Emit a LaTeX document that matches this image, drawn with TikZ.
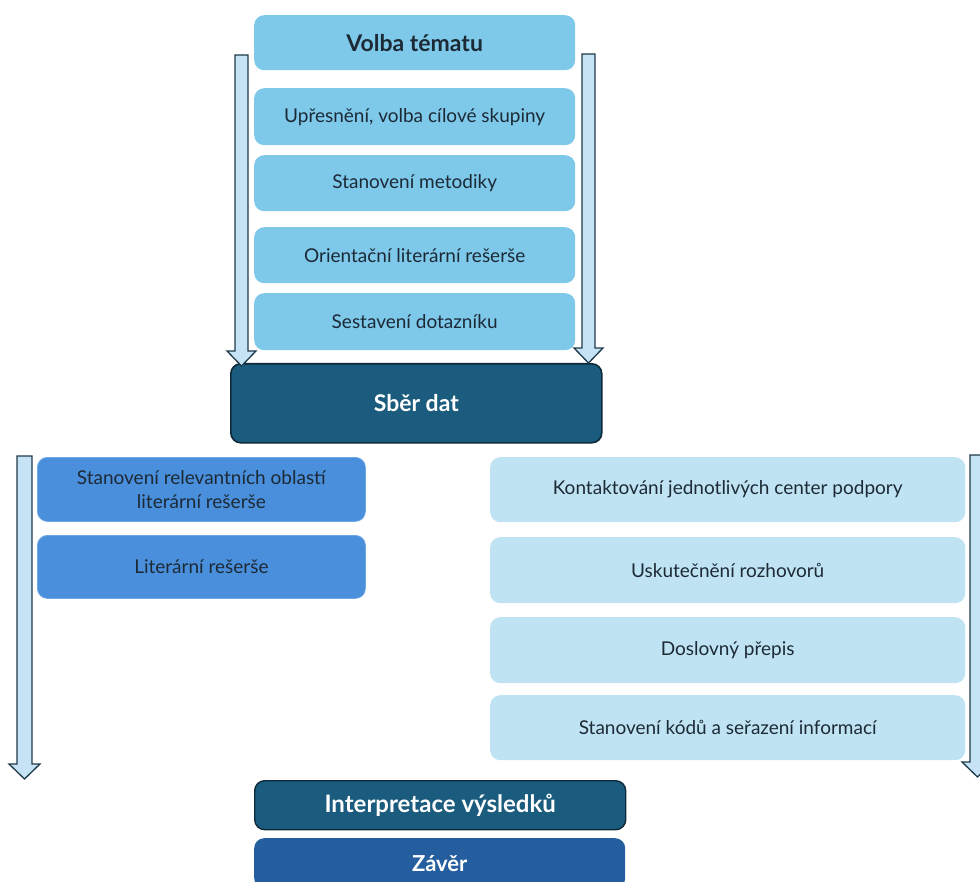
\documentclass[tikz,border=0pt]{standalone}
\usepackage{fontspec}
\setmainfont{Lato}
\begin{document}
\definecolor{topfill}{HTML}{7EC8EA}
\definecolor{darkfill}{HTML}{1B5C7E}
\definecolor{darkline}{HTML}{0E2A3A}
\definecolor{midfill}{HTML}{4A8FDB}
\definecolor{midline}{HTML}{6FA8E6}
\definecolor{palefill}{HTML}{C0E3F3}
\definecolor{endfill}{HTML}{245E9E}
\definecolor{arrowfill}{HTML}{C5E3F5}
\definecolor{arrowline}{HTML}{1E3A4A}
\definecolor{textdark}{HTML}{1C2A36}
% hollow downward block arrow: centre x, top y, tip y, shaft half-width, head half-width
\newcommand\downblock[5]{%
  \draw[blockarrow] (#1-#4,#2) -- (#1+#4,#2) -- (#1+#4,#3-15) -- (#1+#5,#3-15)
    -- (#1,#3) -- (#1-#5,#3-15) -- (#1-#4,#3-15) -- cycle;}
\begin{tikzpicture}[x=1pt,y=-1pt,
  box/.style={rounded corners=10pt, anchor=north west, inner sep=0pt,
    align=center, text=textdark, font=\fontsize{19}{24}\selectfont},
  boldtext/.style={font=\fontsize{#1}{24}\selectfont\bfseries},
  topbox/.style={box, fill=topfill, minimum width=321pt},
  darkbox/.style={box, fill=darkfill, draw=darkline, line width=1.6pt, text=white},
  midbox/.style={box, fill=midfill, draw=midline, line width=0.8pt, minimum width=328pt},
  palebox/.style={box, fill=palefill, minimum width=475pt},
  blockarrow/.style={fill=arrowfill, draw=arrowline, line width=1.3pt, line join=miter}
]
\useasboundingbox (0,0) rectangle (980,882);
\begin{scope}
\clip (0,0) rectangle (980,882);

% first phase: preparation steps
\node[topbox, minimum height=55pt, boldtext=23] (volba) at (254,15) {Volba tématu};
\node[topbox, minimum height=57pt] (upres) at (254,88) {Upřesnění, volba cílové skupiny};
\node[topbox, minimum height=56pt] (metod) at (254,155) {Stanovení metodiky};
\node[topbox, minimum height=56pt] (orient) at (254,227) {Orientační literární rešerše};
\node[topbox, minimum height=57pt] (dotaz) at (254,293) {Sestavení dotazníku};

% data collection
\node[darkbox, minimum width=371pt, minimum height=79pt, boldtext=23] (sber) at (230,363) {Sběr dat};

% left branch: literature
\node[midbox, minimum height=64pt] (oblasti) at (37,457) {Stanovení relevantních oblastí\\literární rešerše};
\node[midbox, minimum height=63pt] (reserse) at (37,535) {Literární rešerše};

% right branch: interviews
\node[palebox, minimum height=65pt] (kontakt) at (490,457) {Kontaktování jednotlivých center podpory};
\node[palebox, minimum height=66pt] (rozhov) at (490,537) {Uskutečnění rozhovorů};
\node[palebox, minimum height=66pt] (prepis) at (490,617) {Doslovný přepis};
\node[palebox, minimum height=65pt] (kody) at (490,695) {Stanovení kódů a seřazení informací};

% results
\node[darkbox, minimum width=371pt, minimum height=49pt, line width=1.4pt, boldtext=24] (interp) at (254,780) {Interpretace výsledků};
\node[box, fill=endfill, text=white, minimum width=371pt, minimum height=50pt, boldtext=22] (zaver) at (254,838) {Závěr};

% block arrows alongside the steps
\downblock{241.5}{55}{366}{6.5}{14.5}
\downblock{588.5}{54}{363}{6.5}{14.5}
\downblock{24.5}{456}{779}{7.5}{15.5}
\downblock{977.5}{455}{777}{7.5}{15.5}
\end{scope}
\end{tikzpicture}
\end{document}
